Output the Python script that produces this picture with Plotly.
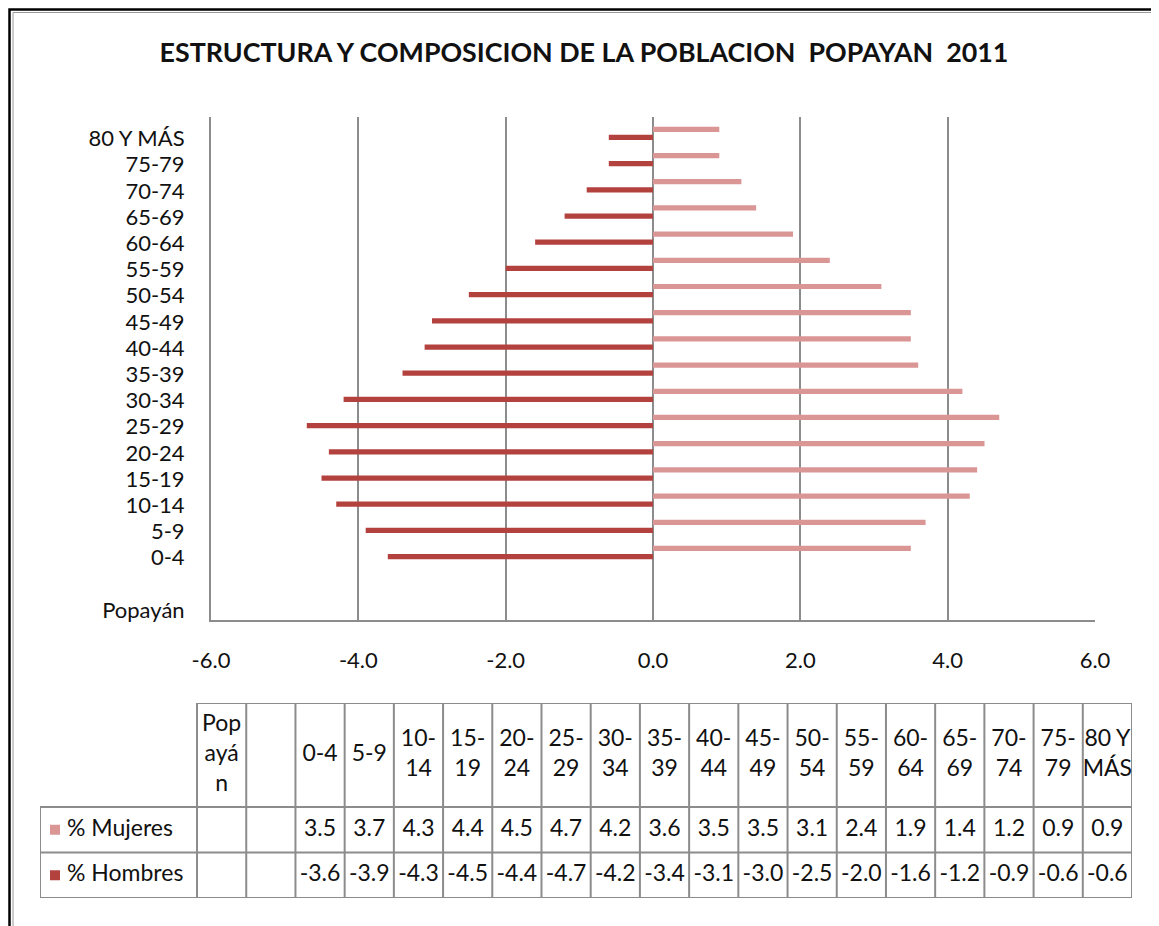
import plotly.graph_objects as go

# ---- data ----
grupos = ["0-4", "5-9", "10-14", "15-19", "20-24", "25-29", "30-34", "35-39",
          "40-44", "45-49", "50-54", "55-59", "60-64", "65-69", "70-74",
          "75-79", "80 Y MÁS"]
mujeres = [3.5, 3.7, 4.3, 4.4, 4.5, 4.7, 4.2, 3.6, 3.5, 3.5, 3.1, 2.4, 1.9,
           1.4, 1.2, 0.9, 0.9]
hombres = [-3.6, -3.9, -4.3, -4.5, -4.4, -4.7, -4.2, -3.4, -3.1, -3.0, -2.5,
           -2.0, -1.6, -1.2, -0.9, -0.6, -0.6]
categorias = ["Popayán", " "] + grupos
encabezados = ["Pop<br>ayá<br>n", "", "0-4", "5-9", "10-<br>14", "15-<br>19",
               "20-<br>24", "25-<br>29", "30-<br>34", "35-<br>39", "40-<br>44",
               "45-<br>49", "50-<br>54", "55-<br>59", "60-<br>64", "65-<br>69",
               "70-<br>74", "75-<br>79", "80 Y<br>MÁS"]
x_ticks = [-6, -4, -2, 0, 2, 4, 6]
series = ["% Mujeres", "% Hombres"]
titulo = "ESTRUCTURA Y COMPOSICION DE LA POBLACION\u00a0 POPAYAN\u00a0 2011"

# ---- styling ----
W, H = 1159, 926
OFF = 8  # page body margin the browser adds around the figure
FONT = "Lato, 'Open Sans', sans-serif"
C_MUJ = "#D99694"
C_HOM = "#B3423F"
GRID = "#8C8C8C"
TXT = "#111111"


def px(x):
    return (x - OFF) / W


def py(y):
    return 1 - (y - OFF) / H


fig = go.Figure()

# pyramid bars (women drawn slightly above men in each category)
fig.add_trace(go.Bar(y=grupos, x=mujeres, orientation="h", name=series[0],
                     marker=dict(color=C_MUJ, line=dict(width=0)),
                     width=0.2, offset=0.25, showlegend=False))
fig.add_trace(go.Bar(y=grupos, x=hombres, orientation="h", name=series[1],
                     marker=dict(color=C_HOM, line=dict(width=0)),
                     width=0.2, offset=-0.06, showlegend=False))

# ---- data table under the chart, on its own axes ----
leg_w = 157
col_w = 49.2
row_h = [104, 45.5, 45.5]
col_edges = [0, leg_w]
for _ in encabezados:
    col_edges.append(col_edges[-1] + col_w)
row_edges = [0]
for h in row_h:
    row_edges.append(row_edges[-1] + h)
tot_w, tot_h = col_edges[-1], row_edges[-1]

lx, ly = [], []
# horizontal lines
for i, y in enumerate(row_edges):
    x0 = leg_w if i == 0 else 0
    lx += [x0, tot_w, None]
    ly += [y, y, None]
# vertical lines
for j, x in enumerate(col_edges):
    y0 = row_edges[1] if j == 0 else 0
    lx += [x, x, None]
    ly += [y0, tot_h, None]
fig.add_trace(go.Scatter(x=lx, y=ly, mode="lines", xaxis="x2", yaxis="y2",
                         line=dict(color=GRID, width=2), hoverinfo="skip",
                         showlegend=False))

centros = [(col_edges[k + 1] + col_edges[k + 2]) / 2 for k in range(len(encabezados))]
fila = [(row_edges[k] + row_edges[k + 1]) / 2 for k in range(3)]
fig.add_trace(go.Scatter(x=centros, y=[fila[0]] * len(centros), mode="text",
                         text=encabezados, xaxis="x2", yaxis="y2",
                         textfont=dict(family=FONT, size=23, color=TXT),
                         hoverinfo="skip", showlegend=False))
for vals, yy in [(mujeres, fila[1]), (hombres, fila[2])]:
    fig.add_trace(go.Scatter(x=centros[2:], y=[yy] * len(vals), mode="text",
                             text=[f"{v:.1f}" for v in vals], xaxis="x2", yaxis="y2",
                             textfont=dict(family=FONT, size=23, color=TXT),
                             hoverinfo="skip", showlegend=False))
# legend keys
fig.add_trace(go.Scatter(x=[15, 15], y=fila[1:], mode="markers", xaxis="x2", yaxis="y2",
                         marker=dict(symbol="square", size=10, color=[C_MUJ, C_HOM]),
                         hoverinfo="skip", showlegend=False))
fig.add_trace(go.Scatter(x=[27, 27], y=fila[1:], mode="text", text=series,
                         textposition="middle right", xaxis="x2", yaxis="y2",
                         textfont=dict(family=FONT, size=23, color=TXT),
                         hoverinfo="skip", showlegend=False))

# ---- layout ----
fig.update_layout(
    width=W, height=H, autosize=False,
    margin=dict(l=0, r=0, t=0, b=0, pad=0, autoexpand=False),
    paper_bgcolor="white", plot_bgcolor="white",
    barmode="overlay",
    title=dict(text=titulo, x=px(584), y=py(53), xanchor="center", yanchor="middle",
               font=dict(family=FONT, size=26.8, color=TXT, weight="bold")),
    xaxis=dict(domain=[px(211), px(1095)], range=[-6, 6],
               tickvals=x_ticks, ticktext=[f"{v:.1f}" for v in x_ticks],
               showgrid=True, gridcolor=GRID, gridwidth=2,
               zeroline=True, zerolinecolor=GRID, zerolinewidth=2,
               showline=True, linecolor=GRID, linewidth=2,
               ticks="", ticklabelstandoff=20, automargin=False,
               tickfont=dict(family=FONT, size=22, color=TXT), fixedrange=True),
    yaxis=dict(domain=[py(620), py(117)], type="category",
               categoryorder="array", categoryarray=categorias,
               range=[-0.38, 18.82], showgrid=False, zeroline=False,
               showline=True, linecolor=GRID, linewidth=2,
               ticks="", ticklabelstandoff=20, automargin=False,
               tickfont=dict(family=FONT, size=22, color=TXT), fixedrange=True),
    xaxis2=dict(domain=[px(40), px(1132)], range=[0, tot_w], visible=False,
                anchor="y2", fixedrange=True, automargin=False),
    yaxis2=dict(domain=[py(898), py(703)], range=[tot_h, 0], visible=False,
                anchor="x2", fixedrange=True, automargin=False),
    shapes=[
        dict(type="rect", xref="paper", yref="paper", x0=px(9.5), x1=1.05,
             y0=-0.05, y1=py(9.5), line=dict(color="black", width=2.5)),
        dict(type="rect", xref="paper", yref="paper", x0=px(13), x1=1.05,
             y0=-0.05, y1=py(12.5), line=dict(color="#9A9A9A", width=1)),
    ],
)

fig.write_html("out.html")
